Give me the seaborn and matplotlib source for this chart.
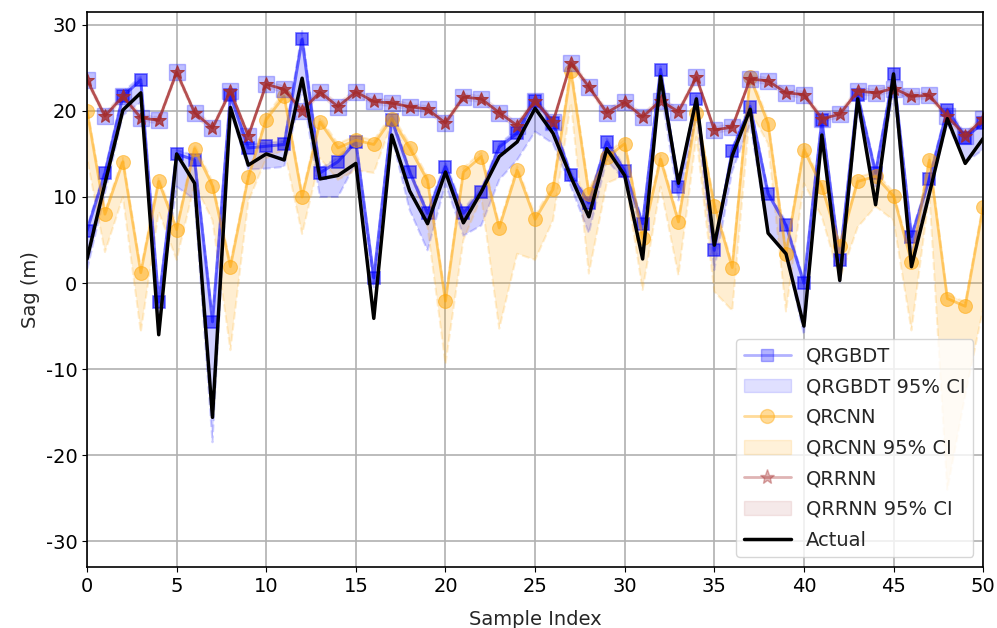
"""Quantile regression predictions vs actual sag."""

import matplotlib
matplotlib.use("Agg")
import matplotlib.pyplot as plt
import numpy as np
import seaborn as sns
from matplotlib.lines import Line2D
from matplotlib.patches import Patch

sample_idx = list(range(51))

actual = [2.8, 11.6, 20.1, 22.1, -6.0, 15.0, 11.6, -15.6, 20.4, 13.7,
          15.0, 14.3, 23.8, 12.1, 12.5, 13.9, -4.1, 17.2, 10.7, 6.9,
          12.9, 7.0, 10.6, 14.7, 16.4, 20.3, 17.4, 12.3, 7.7, 15.6,
          12.5, 2.8, 24.0, 11.6, 21.4, 4.4, 14.8, 20.2, 5.8, 3.4,
          -5.0, 17.2, 0.3, 21.4, 9.1, 24.3, 1.9, 10.4, 19.1, 13.9, 16.8]

qrgbdt = [6.1, 12.8, 21.7, 23.6, -2.2, 15.0, 14.3, -4.5, 21.8, 15.7,
          15.9, 16.1, 28.3, 12.8, 14.1, 16.4, 0.6, 19.0, 12.9, 8.1,
          13.5, 8.1, 10.6, 15.8, 17.4, 21.2, 18.6, 12.5, 9.3, 16.4,
          13.0, 6.9, 24.8, 11.2, 21.4, 3.8, 15.4, 20.5, 10.4, 6.7,
          0.0, 18.9, 2.7, 21.8, 12.8, 24.3, 5.4, 12.1, 20.1, 16.9, 18.6]
qrgbdt_lo = [1.5, 10.4, 19.5, 21.0, -3.5, 11.2, 9.7, -18.5, 20.0, 13.2,
             13.3, 13.5, 22.5, 10.0, 10.0, 14.0, -0.5, 17.0, 8.5, 3.8,
             11.5, 5.5, 6.7, 12.0, 14.3, 17.6, 16.2, 11.2, 5.8, 14.3,
             11.9, 6.0, 22.5, 9.6, 19.5, 1.5, 13.0, 18.5, 5.7, 3.4,
             -6.0, 17.5, 0.0, 20.0, 11.0, 22.0, 3.5, 10.5, 18.5, 14.0, 15.5]
qrgbdt_hi = [6.5, 13.2, 22.2, 24.0, -1.8, 15.5, 14.8, -4.0, 22.2, 16.2,
             16.3, 16.5, 29.3, 13.3, 14.6, 16.8, 1.0, 19.5, 13.3, 8.5,
             14.0, 8.6, 11.0, 16.2, 17.8, 21.6, 19.0, 12.9, 9.7, 16.8,
             13.4, 7.3, 25.2, 11.6, 21.8, 4.2, 15.8, 20.9, 10.8, 7.1,
             0.4, 19.3, 3.1, 22.2, 13.2, 24.7, 5.8, 12.5, 20.5, 17.3, 19.0]

qrcnn = [20.0, 8.0, 14.1, 1.2, 11.8, 6.2, 15.6, 11.3, 1.9, 12.3,
         19.0, 21.7, 10.0, 18.7, 15.7, 16.6, 16.1, 19.1, 15.7, 11.9,
         -2.1, 12.9, 14.7, 6.4, 13.1, 7.4, 10.9, 24.6, 10.4, 14.6,
         16.2, 5.2, 14.4, 7.1, 19.8, 9.0, 1.8, 23.9, 18.5, 3.4,
         15.5, 11.2, 4.3, 11.8, 12.4, 10.1, 2.5, 14.3, -1.8, -2.7, 8.8]
qrcnn_lo = [14.5, 3.6, 10.0, -5.7, 8.3, 2.7, 11.5, 7.3, -7.8, 9.5,
            14.5, 15.5, 5.7, 14.5, 12.0, 13.1, 12.8, 18.6, 13.1, 6.5,
            -9.4, 5.0, 10.0, -5.3, 3.4, 2.7, 7.3, 20.9, 1.1, 11.6,
            12.5, -0.8, 11.2, 0.9, 17.0, -1.0, -3.2, 20.0, 16.2, -3.3,
            11.6, 7.7, 0.5, 6.5, 8.9, 7.3, -5.5, 10.4, -24.0, -13.0, -3.0]
qrcnn_hi = [20.5, 8.5, 14.6, 1.7, 12.3, 6.7, 16.1, 11.8, 2.4, 12.8,
            19.5, 22.2, 10.5, 19.2, 16.2, 17.1, 16.6, 19.6, 16.2, 12.4,
            -1.6, 13.4, 15.2, 6.9, 13.6, 7.9, 11.4, 25.4, 10.9, 15.1,
            16.7, 5.7, 14.9, 7.6, 20.3, 9.5, 2.3, 24.4, 19.0, 3.9,
            16.0, 11.7, 4.8, 12.3, 12.9, 10.6, 3.0, 14.8, -1.3, -2.2, 9.3]

qrrnn = [23.6, 19.4, 21.7, 19.2, 18.9, 24.5, 19.8, 18.0, 22.3, 17.1,
         23.1, 22.5, 20.0, 22.2, 20.5, 22.2, 21.1, 20.9, 20.5, 20.2,
         18.6, 21.6, 21.4, 19.8, 18.3, 21.2, 18.7, 25.6, 22.8, 19.8,
         21.0, 19.3, 21.2, 19.9, 23.9, 17.8, 18.1, 23.7, 23.5, 22.1,
         21.9, 19.1, 19.6, 22.3, 22.1, 22.6, 21.7, 21.8, 19.4, 17.1, 19.1]
qrrnn_lo = [23.2, 19.0, 21.3, 18.8, 18.5, 24.0, 19.4, 17.6, 21.9, 16.7,
            22.7, 22.1, 19.6, 21.8, 20.1, 21.8, 20.7, 20.5, 20.1, 19.8,
            18.2, 21.2, 21.0, 19.4, 17.9, 20.8, 18.3, 25.1, 22.4, 19.4,
            20.6, 18.9, 20.8, 19.5, 23.4, 17.4, 17.7, 23.3, 23.1, 21.7,
            21.5, 18.7, 19.2, 21.9, 21.7, 22.2, 21.3, 21.4, 19.0, 16.7, 18.7]
qrrnn_hi = [24.0, 19.8, 22.1, 19.6, 19.3, 24.9, 20.2, 18.4, 22.7, 17.5,
            23.5, 22.9, 20.4, 22.6, 20.9, 22.6, 21.5, 21.3, 20.9, 20.6,
            19.0, 22.0, 21.8, 20.2, 18.7, 21.6, 19.1, 26.0, 23.2, 20.2,
            21.4, 19.7, 21.6, 20.3, 24.3, 18.2, 18.5, 24.1, 23.9, 22.5,
            22.3, 19.5, 20.0, 22.7, 22.5, 23.0, 22.1, 22.2, 19.8, 17.5, 19.5]

sns.set_style("ticks")
plt.rcParams["font.family"] = ["DejaVu Sans"]
plt.rcParams["font.size"] = 14
plt.rcParams["axes.unicode_minus"] = False

fig = plt.figure(figsize=(9.97, 6.28), dpi=100)
ax = fig.add_axes([0.0873, 0.097, 0.8988, 0.884])

x = np.array(sample_idx)

# QRGBDT
sns.lineplot(x=x, y=qrgbdt, color="blue", alpha=0.55, marker="s", markersize=9,
             markeredgecolor="blue", markeredgewidth=1.2, linewidth=2.2, ax=ax)
ax.fill_between(x, qrgbdt_lo, qrgbdt_hi, color="blue", alpha=0.18, linestyle="--", linewidth=1.5)

# QRCNN
sns.lineplot(x=x, y=qrcnn, color="orange", alpha=0.5, marker="o", markersize=10,
             markeredgecolor="orange", linewidth=2, ax=ax)
ax.fill_between(x, qrcnn_lo, qrcnn_hi, color="orange", alpha=0.18, linestyle="--", linewidth=1.5)

# QRRNN (light squares sit under the stars)
ax.plot(x, qrrnn, linestyle="none", marker="s", markersize=11, color="blue", alpha=0.25)
sns.lineplot(x=x, y=qrrnn, color="brown", alpha=0.8, marker="*", markersize=10,
             markeredgecolor="brown", linewidth=2, ax=ax)
ax.fill_between(x, qrrnn_lo, qrrnn_hi, color="brown", alpha=0.1, linestyle="--")

# Actual
sns.lineplot(x=x, y=actual, color="black", linewidth=2.5, ax=ax)

handles = [
    Line2D([], [], color="blue", alpha=0.3, marker="s", markersize=9,
           markeredgecolor="blue", linewidth=2),
    Patch(facecolor="blue", edgecolor="blue", alpha=0.12),
    Line2D([], [], color="orange", alpha=0.4, marker="o", markersize=10, linewidth=2),
    Patch(facecolor="orange", edgecolor="orange", alpha=0.15),
    Line2D([], [], color="brown", alpha=0.35, marker="*", markersize=11, linewidth=2),
    Patch(facecolor="brown", edgecolor="brown", alpha=0.1),
    Line2D([], [], color="black", linewidth=2.5),
]
labels = ["QRGBDT", "QRGBDT 95% CI", "QRCNN", "QRCNN 95% CI",
          "QRRNN", "QRRNN 95% CI", "Actual"]
ax.legend(handles, labels, loc="lower right", fontsize=14, framealpha=0.8,
          handlelength=2.4, labelspacing=0.6)

ax.set_xlim(0, 50)
ax.set_ylim(-33, 31.5)
ax.set_xticks(range(0, 51, 5))
ax.set_yticks(range(-30, 31, 10))
ax.grid(True, color="#b0b0b0", linewidth=1.2)
for sp in ax.spines.values():
    sp.set_color("black")
    sp.set_linewidth(1.2)
ax.tick_params(colors="black", labelsize=14)
ax.set_xlabel("Sample Index", fontsize=14, labelpad=10)
ax.set_ylabel("Sag (m)", fontsize=14)

fig.savefig("out.png", dpi=100)
